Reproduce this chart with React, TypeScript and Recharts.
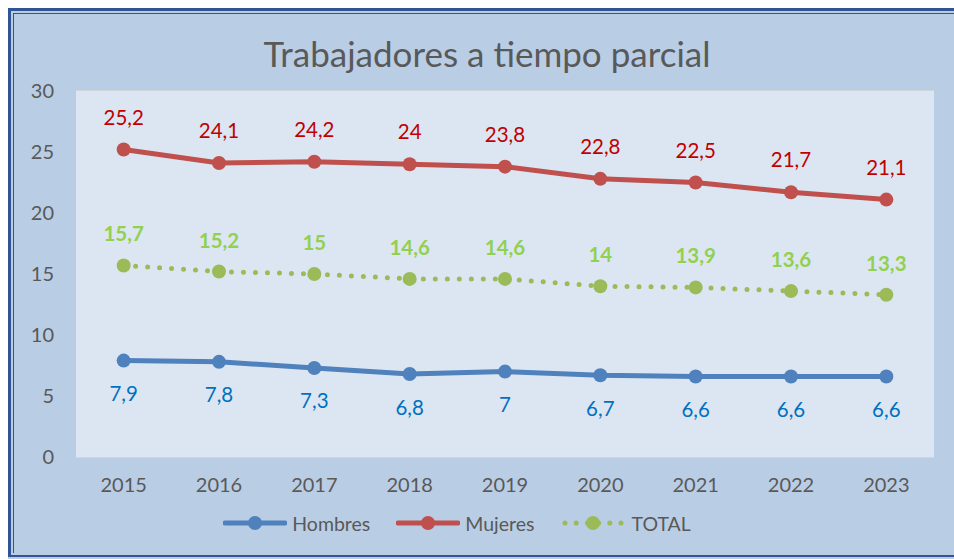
import React from "react";
import { LineChart, Line, XAxis, YAxis, CartesianGrid, LabelList, Legend } from "recharts";

const years = [2015, 2016, 2017, 2018, 2019, 2020, 2021, 2022, 2023];
const hombres = [7.9, 7.8, 7.3, 6.8, 7, 6.7, 6.6, 6.6, 6.6];
const mujeres = [25.2, 24.1, 24.2, 24, 23.8, 22.8, 22.5, 21.7, 21.1];
const total = [15.7, 15.2, 15, 14.6, 14.6, 14, 13.9, 13.6, 13.3];
const yTicks = [0, 5, 10, 15, 20, 25, 30];

const data = years.map((y, i) => ({ year: y, hombres: hombres[i], mujeres: mujeres[i], total: total[i] }));

const FONT = "Lato, 'Open Sans', sans-serif";
const fmt = (v: any) => String(v).replace(".", ",");

function LegendContent() {
  const item = (label: string, color: string, dotted: boolean) => (
    <div style={{ display: "flex", alignItems: "center", marginRight: 26 }}>
      <svg width={64} height={20}>
        {dotted ? (
          <line x1={4} y1={10} x2={60} y2={10} stroke={color} strokeWidth={5} strokeLinecap="round" strokeDasharray="0 11.2" />
        ) : (
          <line x1={2} y1={10} x2={62} y2={10} stroke={color} strokeWidth={5} strokeLinecap="round" />
        )}
        <circle cx={32} cy={10} r={7} fill={color} />
      </svg>
      <span style={{ fontSize: 19.5, color: "#595959", marginLeft: dotted ? 7 : 5 }}>{label}</span>
    </div>
  );
  return (
    <div style={{ display: "flex", justifyContent: "center", fontFamily: FONT, height: 30, alignItems: "center", paddingRight: 2 }}>
      {item("Hombres", "#4f81bd", false)}
      {item("Mujeres", "#c0504d", false)}
      {item("TOTAL", "#9bbb59", true)}
    </div>
  );
}

export default function App() {
  return (
    <div
      style={{
        position: "absolute",
        left: 8,
        top: 8,
        width: 946,
        height: 551,
        overflow: "hidden",
        background: "#b9cde5",
        fontFamily: FONT,
      }}
    >
      <div
        style={{
          position: "absolute",
          left: 0,
          top: 0,
          width: 980,
          height: 549,
          borderTop: "3px solid #2f5597",
          borderLeft: "3px solid #2f5597",
          borderBottom: "2px solid #2f5597",
          boxSizing: "border-box",
        }}
      />
      <div
        style={{
          position: "absolute",
          left: 5,
          top: 5,
          width: 980,
          height: 540,
          borderTop: "1.5px solid #2f5597",
          borderLeft: "1.5px solid #2f5597",
          boxSizing: "border-box",
        }}
      />
      <div
        style={{
          position: "absolute",
          left: 0,
          top: 25,
          width: 958,
          textAlign: "center",
          fontSize: 35,
          lineHeight: "40px",
          color: "#595959",
        }}
      >
        Trabajadores a tiempo parcial
      </div>
      <LineChart width={946} height={551} data={data} margin={{ top: 83, right: 20, bottom: 21, left: 0 }}>
        <rect x={68} y={83} width={858} height={366} fill="#dce6f2" />
        <CartesianGrid vertical={false} stroke="#d9d9d9" strokeWidth={1.5} />
        <XAxis
          dataKey="year"
          type="number"
          domain={[2014.5, 2023.5]}
          ticks={years}
          axisLine={false}
          tickLine={false}
          height={51}
          tickMargin={15}
          tick={{ fontSize: 20, fill: "#595959", fontFamily: FONT }}
        />
        <YAxis
          domain={[0, 30]}
          ticks={yTicks}
          width={68}
          axisLine={false}
          tickLine={false}
          tickMargin={16}
          tick={{ fontSize: 20, fill: "#595959", fontFamily: FONT }}
        />
        <Legend verticalAlign="bottom" content={() => <LegendContent />} wrapperStyle={{ height: 30 }} />
        <Line
          dataKey="mujeres"
          name="Mujeres"
          stroke="#c0504d"
          strokeWidth={5}
          dot={{ r: 7, fill: "#c0504d", stroke: "#c0504d", strokeWidth: 0 }}
          isAnimationActive={false}
        >
          <LabelList dataKey="mujeres" position="top" offset={25} formatter={fmt} style={{ fontSize: 20.5, fill: "#c00000", fontFamily: FONT }} />
        </Line>
        <Line
          dataKey="total"
          name="TOTAL"
          stroke="#9bbb59"
          strokeWidth={5}
          strokeLinecap="round"
          strokeDasharray="0 12"
          dot={{ r: 7, fill: "#9bbb59", stroke: "#9bbb59", strokeWidth: 0, strokeDasharray: "0" }}
          isAnimationActive={false}
        >
          <LabelList dataKey="total" position="top" offset={24} formatter={fmt} style={{ fontSize: 20.5, fill: "#92d050", fontWeight: 700, fontFamily: FONT }} />
        </Line>
        <Line
          dataKey="hombres"
          name="Hombres"
          stroke="#4f81bd"
          strokeWidth={5}
          dot={{ r: 7, fill: "#4f81bd", stroke: "#4f81bd", strokeWidth: 0 }}
          isAnimationActive={false}
        >
          <LabelList dataKey="hombres" position="bottom" offset={26} formatter={fmt} style={{ fontSize: 20.5, fill: "#0070c0", fontFamily: FONT }} />
        </Line>
      </LineChart>
    </div>
  );
}
